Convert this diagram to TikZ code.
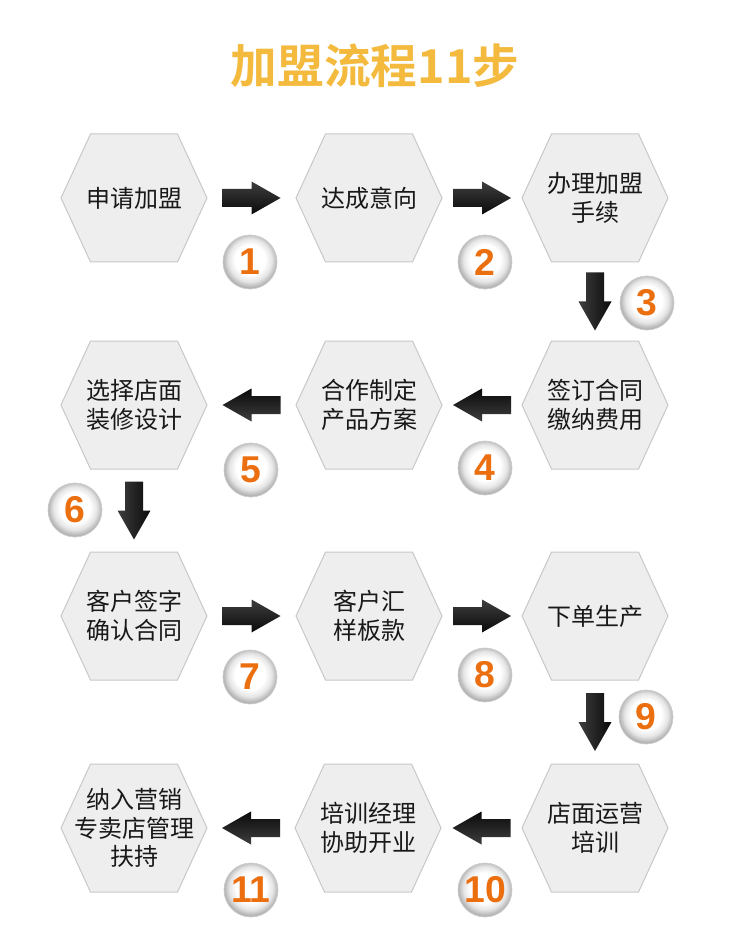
\documentclass[tikz,border=0pt]{standalone}
\usepackage{fontspec}
\setmainfont{Noto Sans CJK SC}
\newfontfamily\titlefont{Noto Sans CJK SC Bold}
\newfontfamily\numfont{Liberation Sans}
\usetikzlibrary{calc}

\definecolor{hexfill}{RGB}{238,238,238}
\definecolor{hexline}{RGB}{200,200,200}
\definecolor{numorange}{RGB}{235,110,15}
\definecolor{titlegold}{RGB}{243,186,62}
\definecolor{arrowgray}{RGB}{62,62,62}
\definecolor{arrowdark}{RGB}{10,10,10}

\pgfdeclareradialshading{ballshade}{\pgfpoint{0bp}{3bp}}{color(0bp)=(white); color(14bp)=(white);
  color(20bp)=(black!10); color(25bp)=(black!30); color(50bp)=(black!30)}

\tikzset{
  hexbox/.style={fill=hexfill,draw=hexline,line width=0.75pt,line join=miter},
  hexlabel/.style={align=center,text=black!90,font=\fontsize{18}{21.5}\selectfont},
  numball/.style={circle,minimum size=40.5pt,inner sep=0pt,shading=ballshade,
    draw=black!20,line width=0.5pt,text=numorange,font=\numfont\bfseries\fontsize{28}{28}\selectfont},
  titletext/.style={font=\titlefont\fontsize{35}{35}\selectfont},
  rightarrow/.style={top color=arrowgray,bottom color=arrowdark},
  leftarrow/.style={top color=arrowdark,bottom color=arrowgray},
  downarrow/.style={left color=arrowgray,right color=arrowdark}
}

% block arrow half way between two nodes
\newcommand{\blockarrow}[4]{%
  \path[shift={($(#1)!0.5!(#2)$)},rotate=#3,#4]
    (-29,-9) -- (0,-9) -- (0,-16.5) -- (29,0) -- (0,16.5) -- (0,9) -- (-29,9) -- cycle;
}

\begin{document}
\begin{tikzpicture}[x=0.75pt,y=-0.75pt]
  \useasboundingbox (0,0) rectangle (750,944);
  \fill[white] (0,0) rectangle (750,944);

  \node[titletext,text=titlegold] (title) at (375,66) {加盟流程11步};

  % steps
  \foreach \cx/\cy/\name/\txt in {
      134/198/h1/{申请加盟}, 369/198/h2/{达成意向}, 595/198/h3/{办理加盟\\手续},
      595/405/h4/{签订合同\\缴纳费用}, 369/405/h5/{合作制定\\产品方案}, 134/405/h6/{选择店面\\装修设计},
      134/616/h7/{客户签字\\确认合同}, 369/616/h8/{客户汇\\样板款}, 595/616/h9/{下单生产},
      595/828/h10/{店面运营\\培训}, 368/828/h11/{培训经理\\协助开业}, 134/828/h12/{纳入营销\\专卖店管理\\扶持}}{
    \draw[hexbox,shift={(\cx,\cy)}] (-73,0) -- (-43.5,-64) -- (43.5,-64) -- (73,0) -- (43.5,64) -- (-43.5,64) -- cycle;
    \node[hexlabel] (\name) at (\cx,\cy) {\txt};
  }

  % arrows
  \blockarrow{h1}{h2}{0}{rightarrow}
  \blockarrow{h2}{h3}{0}{rightarrow}
  \blockarrow{h3}{h4}{-90}{downarrow}
  \blockarrow{h4}{h5}{180}{leftarrow}
  \blockarrow{h5}{h6}{180}{leftarrow}
  \blockarrow{h6}{h7}{-90}{downarrow}
  \blockarrow{h7}{h8}{0}{rightarrow}
  \blockarrow{h8}{h9}{0}{rightarrow}
  \blockarrow{h9}{h10}{-90}{downarrow}
  \blockarrow{h10}{h11}{180}{leftarrow}
  \blockarrow{h11}{h12}{180}{leftarrow}

  % step numbers
  \foreach \nx/\ny/\k in {250/262/1, 485/262/2, 647/303/3, 485/468/4, 251/470/5, 75/510/6,
      250/677/7, 485/675/8, 646/717/9, 485/890/10, 251/890/11}{
    \node[numball] (n\k) at (\nx,\ny) {\k};
  }
\end{tikzpicture}
\end{document}
